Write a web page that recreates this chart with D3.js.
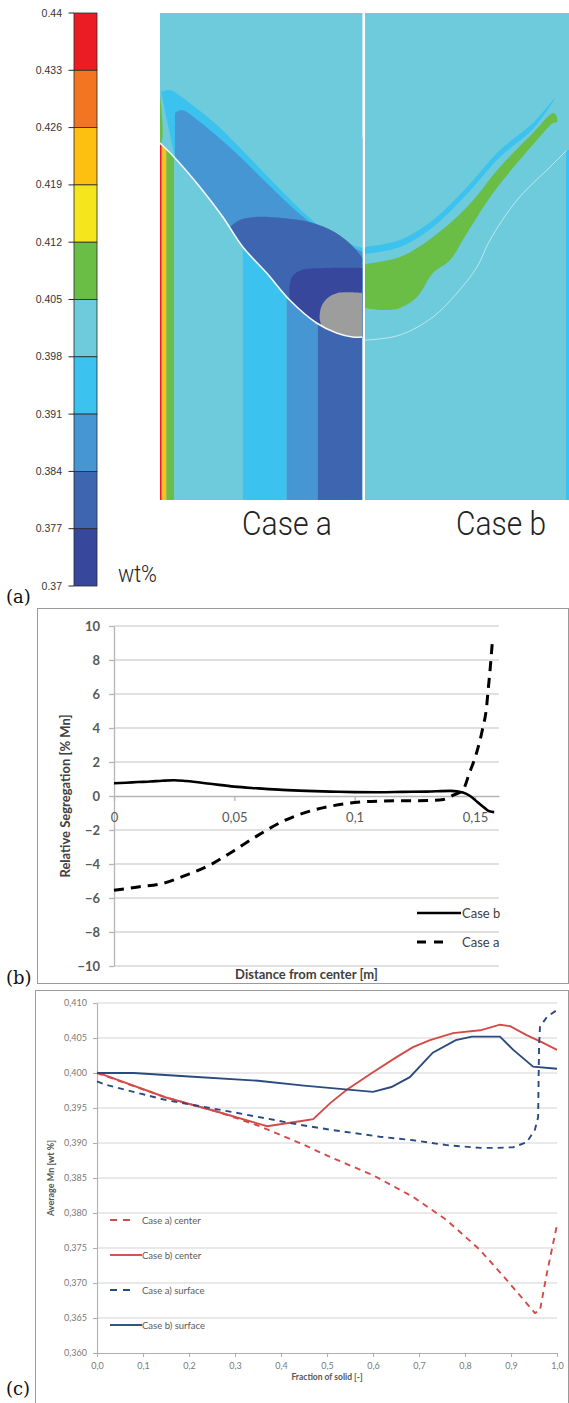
<!DOCTYPE html>
<html>
<head>
<meta charset="utf-8">
<script src="https://cdn.jsdelivr.net/npm/d3@7"></script>
<style>
  body { margin: 0; background: #fff; }
  svg { display: block; }
</style>
</head>
<body>
<svg id="fig" width="569" height="1403"></svg>
<script>
// ---------- data ----------
// (a) colour bar, wt% Mn
var barTicks = [0.44, 0.433, 0.426, 0.419, 0.412, 0.405, 0.398, 0.391, 0.384, 0.377, 0.37];
var barColors = ["#ec1c24", "#f37521", "#fdbf10", "#f4e51c", "#6abd45",
                 "#6dcbdb", "#3bc2ee", "#4696d3", "#3e66b0", "#37479b"];

// (a) contour boundaries, [distance from centre, height] in map units; level = wt% Mn
var frontA = [[0,163],[10,163],[26,167],[46,177],[73,200],[96,227],[120,253],[140,283],[163,313],[188,342],[203,357]];
var cyanA  = [[202,408],[193,410],[180,402],[146,375],[113,342],[80,308],[46,276],[23,260],[0,252]];
var midA   = [[188,387],[181,390],[163,378],[130,350],[96,317],[63,286],[33,264],[13,254],[0,248]];
var darkA  = [[133,273],[123,280],[108,283],[80,282],[53,278],[28,268],[11,255],[0,242]];
var deepA  = [[73,200],[73,215],[70,224],[61,230],[33,232],[0,232]];
var grayA  = [[41,174],[43,182],[41,194],[35,202],[25,207],[0,207]];
var sliverA = [[203,405],[201.5,390],[200.5,362],[203,354]];
// vertical bands below the front: [r outer, r inner, level]
var bandsA = [[203,201.5,0.436],[201.5,200.8,0.430],[200.8,196.5,0.422],[196.5,189,0.408],
              [189,120,0.401],[120,76,0.395],[76,45,0.388],[45,0,0.380]];
var levelsA = {cyan: 0.395, mid: 0.388, dark: 0.381, deep: 0.373, gray: 0.365, sliver: 0.408, bulk: 0.401};

var frontB = [[0,160],[2,160],[35,165],[68,183],[92,207],[112,233],[125,260],[152,300],[185,333],[202,350]];
var cyanB  = [[0,253],[35,260],[68,280],[102,313],[135,350],[168,377],[190,402],
              [168,371],[135,343],[102,306],[68,273],[35,253],[0,246]];
var greenB = [[0,236],[35,243],[68,263],[102,293],[135,333],[168,367],[188,387],[191,385],[192,378],
              [188,377],[172,360],[152,337],[128,307],[102,267],[85,240],[68,227],[52,203],[35,192],[18,190],[0,192]];
var bandsB = [[204,201,0.395]];
var levelsB = {cyan: 0.395, green: 0.408, bulk: 0.401};

// (b) relative segregation vs distance from centre
var distB = [0, 0.005, 0.01, 0.015, 0.02, 0.025, 0.03, 0.04, 0.05, 0.06, 0.07, 0.08, 0.09, 0.1, 0.11, 0.12, 0.13, 0.14, 0.145, 0.148, 0.151, 0.154, 0.156, 0.158];
var segB  = [0.75, 0.78, 0.82, 0.85, 0.9, 0.93, 0.88, 0.72, 0.55, 0.45, 0.36, 0.3, 0.26, 0.23, 0.22, 0.24, 0.26, 0.3, 0.2, 0.0, -0.35, -0.7, -0.9, -0.95];
var distA = [0, 0.01, 0.02, 0.03, 0.04, 0.05, 0.06, 0.07, 0.08, 0.09, 0.1, 0.11, 0.12, 0.13, 0.137, 0.141, 0.145, 0.1477, 0.1506, 0.1531, 0.1548, 0.1556, 0.1564, 0.1573];
var segA  = [-5.55, -5.35, -5.15, -4.65, -4.05, -3.2, -2.3, -1.5, -0.95, -0.6, -0.38, -0.3, -0.28, -0.27, -0.2, 0.05, 0.35, 1.35, 2.5, 3.9, 5.2, 6.4, 7.6, 9.2];
var segTicksX = [0, 0.05, 0.1, 0.15];
var segTicksY = [-10, -8, -6, -4, -2, 0, 2, 4, 6, 8, 10];

// (c) average Mn vs fraction of solid
var fsAc = [0, 0.15, 0.26, 0.35, 0.441, 0.507, 0.6, 0.687, 0.76, 0.833, 0.891, 0.934, 0.952, 0.963, 0.978, 1.0];
var mnAc = [0.4, 0.3965, 0.3945, 0.3925, 0.390, 0.388, 0.3854, 0.3823, 0.379, 0.3747, 0.3704, 0.3671, 0.3657, 0.3661, 0.3714, 0.3783];
var fsBc = [0, 0.15, 0.26, 0.37, 0.441, 0.47, 0.507, 0.543, 0.6, 0.652, 0.687, 0.724, 0.774, 0.833, 0.876, 0.898, 0.934, 0.97, 1.0];
var mnBc = [0.4001, 0.3965, 0.3945, 0.3924, 0.3931, 0.3934, 0.3957, 0.3976, 0.4001, 0.4023, 0.4037, 0.4047, 0.4057, 0.4061, 0.4069, 0.4067, 0.4054, 0.4043, 0.4033];
var fsAs = [0, 0.02, 0.152, 0.296, 0.441, 0.507, 0.615, 0.687, 0.76, 0.833, 0.87, 0.905, 0.934, 0.952, 0.959, 0.96, 0.961, 0.963, 0.978, 1.0];
var mnAs = [0.3988, 0.3983, 0.3961, 0.3944, 0.3926, 0.3919, 0.3909, 0.3904, 0.3897, 0.3893, 0.3893, 0.3894, 0.3901, 0.3919, 0.3937, 0.399, 0.4037, 0.4066, 0.408, 0.409];
var fsBs = [0, 0.08, 0.2, 0.35, 0.45, 0.6, 0.64, 0.68, 0.73, 0.78, 0.815, 0.876, 0.905, 0.948, 1.0];
var mnBs = [0.4, 0.4, 0.3995, 0.3989, 0.3982, 0.3973, 0.398, 0.3994, 0.4029, 0.4047, 0.4052, 0.4052, 0.4033, 0.4009, 0.4006];
var avgTicksX = d3.range(0, 1.0001, 0.1);
var avgTicksY = d3.range(0.36, 0.41001, 0.005);
var avgLegend = ["Case a) center", "Case b) center", "Case a) surface", "Case b) surface"];

// ---------- drawing ----------
var svg = d3.select("#fig");
var RED = "#d44a47", BLUE = "#2a4b80";

// colour for a wt% level; below the bar range the map shows grey
var levelColor = d3.scaleThreshold()
    .domain(barTicks.slice(1, -1).reverse())
    .range(barColors.slice().reverse());
function fillOf(v) { return v < 0.37 ? "#9d9d9d" : levelColor(v); }

// colour bar
var yBar = d3.scaleLinear().domain([0.37, 0.44]).range([586, 13]);
var bar = svg.append("g");
bar.selectAll("rect")
  .data(d3.range(barColors.length))
  .enter().append("rect")
    .attr("x", 74).attr("width", 23)
    .attr("y", i => yBar(barTicks[i]))
    .attr("height", i => yBar(barTicks[i + 1]) - yBar(barTicks[i]))
    .attr("fill", i => barColors[i])
    .attr("stroke", "#2a2a2a").attr("stroke-width", 0.8);
bar.selectAll("line")
  .data(barTicks)
  .enter().append("line")
    .attr("x1", 68.5).attr("x2", 74)
    .attr("y1", d => yBar(d)).attr("y2", d => yBar(d))
    .attr("stroke", "#2a2a2a").attr("stroke-width", 1);
bar.selectAll("text")
  .data(barTicks)
  .enter().append("text")
    .attr("x", 62).attr("y", d => yBar(d) + 3.5)
    .attr("text-anchor", "end")
    .attr("font-family", "Liberation Sans, Arial, sans-serif")
    .attr("font-size", 10.5)
    .attr("fill", "#333")
    .text(d => String(d));

svg.append("text")
    .attr("x", 118).attr("y", 582)
    .attr("font-family", "Roboto, sans-serif").attr("font-weight", 300)
    .attr("font-size", 23).attr("fill", "#222")
    .attr("textLength", 39).attr("lengthAdjust", "spacingAndGlyphs")
    .text("wt%");

// contour map
var xA = d3.scaleLinear().domain([0, 203]).range([362.5, 160]);
var xB = d3.scaleLinear().domain([0, 204]).range([365, 569]);
var yM = d3.scaleLinear().domain([0, 487]).range([500, 13]);

var defs = svg.append("defs");
defs.append("clipPath").attr("id", "clipA").append("rect")
    .attr("x", xA(203)).attr("y", yM(487)).attr("width", xA(0) - xA(203)).attr("height", yM(0) - yM(487));
defs.append("clipPath").attr("id", "clipB").append("rect")
    .attr("x", xB(0)).attr("y", yM(487)).attr("width", xB(204) - xB(0)).attr("height", yM(0) - yM(487));

var lineA = d3.line().x(d => xA(d[0])).y(d => yM(d[1])).curve(d3.curveCatmullRom.alpha(0.5));
var lineB = d3.line().x(d => xB(d[0])).y(d => yM(d[1])).curve(d3.curveCatmullRom.alpha(0.5));

function joined(gen, parts) {
  return parts.map((p, i) => i ? gen(p).replace(/^M/, "L") : gen(p)).join("") + "Z";
}
// region bounded by an upper contour running in to the axis and by the front below it
function aboveFront(upper) {
  var r0 = upper[0][0];
  return joined(lineA, [upper, frontA.filter(p => p[0] <= r0)]);
}

var mapA = svg.append("g").attr("clip-path", "url(#clipA)");
mapA.append("rect")
    .attr("x", xA(203)).attr("y", yM(487))
    .attr("width", xA(0) - xA(203)).attr("height", yM(0) - yM(487))
    .attr("fill", fillOf(levelsA.bulk));
mapA.selectAll(".band")
  .data(bandsA)
  .enter().append("rect")
    .attr("class", "band")
    .attr("x", d => xA(d[0])).attr("width", d => xA(d[1]) - xA(d[0]))
    .attr("y", yM(362)).attr("height", yM(0) - yM(362))
    .attr("fill", d => fillOf(d[2]));
mapA.append("path")
    .attr("d", joined(lineA, [[[203, 487], [0, 487]], frontA]))
    .attr("fill", fillOf(levelsA.bulk));
mapA.append("path").attr("d", aboveFront(cyanA)).attr("fill", fillOf(levelsA.cyan));
mapA.append("path").attr("d", joined(lineA, [sliverA])).attr("fill", fillOf(levelsA.sliver));
mapA.append("path").attr("d", aboveFront(midA)).attr("fill", fillOf(levelsA.mid));
mapA.append("path").attr("d", aboveFront(darkA)).attr("fill", fillOf(levelsA.dark));
mapA.append("path").attr("d", aboveFront(deepA)).attr("fill", fillOf(levelsA.deep));
mapA.append("path").attr("d", aboveFront(grayA)).attr("fill", fillOf(levelsA.gray));
mapA.append("path")
    .attr("d", lineA(frontA))
    .attr("fill", "none").attr("stroke", "#f4f8fb").attr("stroke-width", 1.6);

var mapB = svg.append("g").attr("clip-path", "url(#clipB)");
mapB.append("rect")
    .attr("x", xB(0)).attr("y", yM(487))
    .attr("width", xB(204) - xB(0)).attr("height", yM(0) - yM(487))
    .attr("fill", fillOf(levelsB.bulk));
mapB.selectAll(".band")
  .data(bandsB)
  .enter().append("rect")
    .attr("class", "band")
    .attr("x", d => xB(d[1])).attr("width", d => xB(d[0]) - xB(d[1]))
    .attr("y", yM(350)).attr("height", yM(0) - yM(350))
    .attr("fill", d => fillOf(d[2]));
mapB.append("path").attr("d", lineB(cyanB) + "Z").attr("fill", fillOf(levelsB.cyan));
mapB.append("path").attr("d", lineB(greenB) + "Z").attr("fill", fillOf(levelsB.green));
mapB.append("path")
    .attr("d", lineB(frontB))
    .attr("fill", "none").attr("stroke", "#eef6f8").attr("stroke-width", 0.8).attr("opacity", 0.8);

svg.selectAll(".case")
  .data([["Case a", 242], ["Case b", 456]])
  .enter().append("text")
    .attr("class", "case")
    .attr("x", d => d[1]).attr("y", 535)
    .attr("font-family", "Roboto, sans-serif").attr("font-weight", 300)
    .attr("font-size", 33).attr("fill", "#222")
    .attr("textLength", 90).attr("lengthAdjust", "spacingAndGlyphs")
    .text(d => d[0]);

// panel frames and letters
svg.append("rect").attr("x", 37.5).attr("y", 608.5).attr("width", 531).attr("height", 375)
    .attr("fill", "none").attr("stroke", "#9a9a9a").attr("stroke-width", 1);
svg.append("rect").attr("x", 35.5).attr("y", 990.5).attr("width", 533).attr("height", 430)
    .attr("fill", "none").attr("stroke", "#9a9a9a").attr("stroke-width", 1);
svg.selectAll(".letter")
  .data([["(a)", 603], ["(b)", 984], ["(c)", 1395]])
  .enter().append("text")
    .attr("class", "letter")
    .attr("x", 6).attr("y", d => d[1])
    .attr("font-family", "DejaVu Serif, Liberation Serif, serif")
    .attr("font-size", 18).attr("fill", "#111")
    .text(d => d[0]);

// (b) relative segregation
var xb = d3.scaleLinear().domain([0, 0.16]).range([114, 499]);
var yb = d3.scaleLinear().domain([-10, 10]).range([966, 626]);
var pb = svg.append("g").attr("font-family", "Lato, sans-serif");

pb.selectAll(".grid")
  .data(segTicksY.filter(d => d !== 0))
  .enter().append("line")
    .attr("class", "grid")
    .attr("x1", xb(0)).attr("x2", xb(0.16))
    .attr("y1", d => yb(d)).attr("y2", d => yb(d))
    .attr("stroke", "#d6d6d6").attr("stroke-width", 1.5);

var yAxisB = pb.append("g")
    .attr("transform", "translate(" + xb(0) + ",0)")
    .call(d3.axisLeft(yb).tickValues(segTicksY).tickSize(5).tickSizeOuter(0).tickPadding(9));
yAxisB.selectAll("text").attr("font-family", "Lato, sans-serif").attr("font-size", 13)
    .attr("font-weight", "bold").attr("fill", "#595959");
var xAxisB = pb.append("g")
    .attr("transform", "translate(0," + yb(0) + ")")
    .call(d3.axisBottom(xb).tickValues(segTicksX).tickSize(5).tickSizeOuter(0).tickPadding(12)
      .tickFormat(d => String(d).replace(".", ",")));
xAxisB.selectAll("text").attr("font-family", "Lato, sans-serif").attr("font-size", 13).attr("fill", "#595959");
pb.selectAll(".domain, .tick line").attr("stroke", "#b5b5b5").attr("stroke-width", 1.3);

pb.append("text")
    .attr("transform", "translate(70," + yb(0) + ") rotate(-90)")
    .attr("text-anchor", "middle")
    .attr("font-size", 13).attr("font-weight", "bold").attr("fill", "#404040")
    .text("Relative Segregation [% Mn]");
pb.append("text")
    .attr("x", (xb(0) + xb(0.16)) / 2).attr("y", 979)
    .attr("text-anchor", "middle")
    .attr("font-size", 13).attr("font-weight", "bold").attr("fill", "#404040")
    .text("Distance from center [m]");

var segLine = d3.line().x(d => xb(d[0])).y(d => yb(d[1])).curve(d3.curveMonotoneX);
pb.append("path")
    .attr("d", segLine(d3.zip(distB, segB)))
    .attr("fill", "none").attr("stroke", "#000").attr("stroke-width", 2.6);
pb.append("path")
    .attr("d", segLine(d3.zip(distA, segA)))
    .attr("fill", "none").attr("stroke", "#000").attr("stroke-width", 3)
    .attr("stroke-dasharray", "10,7");

var legB = pb.selectAll(".leg")
  .data([["Case b", null, 913], ["Case a", "9,8", 942]])
  .enter().append("g").attr("class", "leg");
legB.append("line")
    .attr("x1", 417).attr("x2", d => d[1] ? 451 : 461)
    .attr("y1", d => d[2]).attr("y2", d => d[2])
    .attr("stroke", "#000").attr("stroke-width", d => d[1] ? 3 : 2.6)
    .attr("stroke-dasharray", d => d[1]);
legB.append("text")
    .attr("x", 462).attr("y", d => d[2] + 4.5)
    .attr("font-size", 13).attr("fill", "#404040")
    .text(d => d[0]);

// (c) average Mn
var xc = d3.scaleLinear().domain([0, 1]).range([97, 557]);
var yc = d3.scaleLinear().domain([0.36, 0.41]).range([1353, 1003]);
var pc = svg.append("g").attr("font-family", "Lato, sans-serif");

pc.selectAll(".grid")
  .data(avgTicksY.slice(1))
  .enter().append("line")
    .attr("class", "grid")
    .attr("x1", xc(0)).attr("x2", xc(1))
    .attr("y1", d => yc(d)).attr("y2", d => yc(d))
    .attr("stroke", "#d4d4d4").attr("stroke-width", 1.2);

var yAxisC = pc.append("g")
    .attr("transform", "translate(" + xc(0) + ",0)")
    .call(d3.axisLeft(yc).tickValues(avgTicksY).tickSize(4).tickSizeOuter(0).tickPadding(6)
      .tickFormat(d => d3.format(".3f")(d).replace(".", ",")));
var xAxisC = pc.append("g")
    .attr("transform", "translate(0," + yc(0.36) + ")")
    .call(d3.axisBottom(xc).tickValues(avgTicksX).tickSize(4).tickSizeOuter(0).tickPadding(6)
      .tickFormat(d => d3.format(".1f")(d).replace(".", ",")));
pc.selectAll(".tick text").attr("font-family", "Lato, sans-serif").attr("font-size", 9).attr("fill", "#7a7a7a");
pc.selectAll(".domain, .tick line").attr("stroke", "#b0b0b0").attr("stroke-width", 1.1);

pc.append("text")
    .attr("transform", "translate(54," + yc(0.385) + ") rotate(-90)")
    .attr("text-anchor", "middle")
    .attr("font-size", 9).attr("font-weight", "bold").attr("fill", "#555")
    .text("Average Mn [wt %]");
pc.append("text")
    .attr("x", (xc(0) + xc(1)) / 2).attr("y", 1380)
    .attr("text-anchor", "middle")
    .attr("font-size", 8.5).attr("font-weight", "bold").attr("fill", "#555")
    .text("Fraction of solid [-]");

var avgLine = d3.line().x(d => xc(d[0])).y(d => yc(d[1]));
var avgSeries = [
  {pts: d3.zip(fsAc, mnAc), color: RED, dash: "6,5"},
  {pts: d3.zip(fsBc, mnBc), color: RED, dash: null},
  {pts: d3.zip(fsAs, mnAs), color: BLUE, dash: "6,5"},
  {pts: d3.zip(fsBs, mnBs), color: BLUE, dash: null}
];
pc.selectAll(".series")
  .data(avgSeries)
  .enter().append("path")
    .attr("class", "series")
    .attr("d", d => avgLine(d.pts))
    .attr("fill", "none").attr("stroke", d => d.color).attr("stroke-width", 1.9)
    .attr("stroke-dasharray", d => d.dash);

var legC = pc.selectAll(".leg")
  .data(avgSeries)
  .enter().append("g").attr("class", "leg")
    .attr("transform", (d, i) => "translate(0," + (1220 + i * 35) + ")");
legC.append("line")
    .attr("x1", 110).attr("x2", d => d.dash ? 134 : 142)
    .attr("stroke", d => d.color).attr("stroke-width", 1.9)
    .attr("stroke-dasharray", d => d.dash ? "7,6" : null);
legC.append("text")
    .attr("x", 142).attr("y", 3.5)
    .attr("font-size", 9.5).attr("fill", "#5a5a5a")
    .text((d, i) => avgLegend[i]);
</script>
</body>
</html>
